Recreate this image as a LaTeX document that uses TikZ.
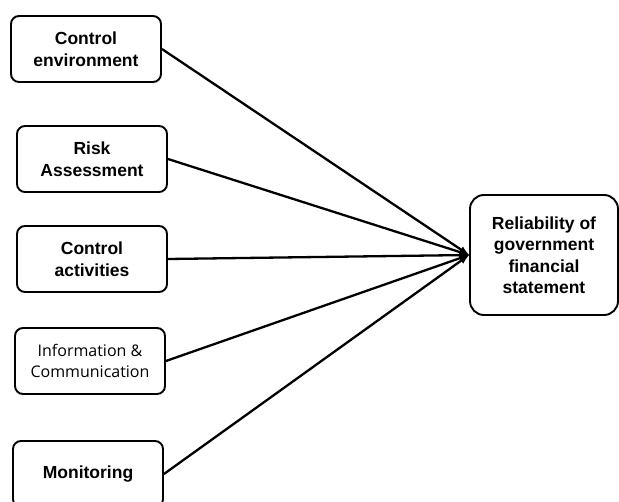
\documentclass[tikz,border=0pt]{standalone}
\usepackage{fontspec}
\setmainfont{Liberation Sans}
\newfontfamily\infofont{Open Sans}
\usepackage{tikz}
\usetikzlibrary{positioning,shapes,arrows}

\begin{document}
\begin{tikzpicture}[x=1pt,y=-1pt]
\tikzstyle{every node}+=[inner sep=0pt]
\tikzstyle{factor}=[draw, line width=1.9pt, rounded corners=8pt, minimum width=150pt, minimum height=66pt, align=center, font=\bfseries\fontsize{17.5}{21.5}\selectfont]
\useasboundingbox (0,0) rectangle (619,502);
% components
\node [factor] (env) at (86,49) {Control\\environment};
\node [factor] (risk) at (92,159) {Risk\\Assessment};
\node [factor] (act) at (92,259) {Control\\activities};
\node [factor, font=\infofont\fontsize{16}{21.5}\selectfont] (info) at (90,361) {Information \&\\Communication};
\node [factor] (mon) at (88,474) {Monitoring};
% outcome
\node [factor, minimum width=148pt, minimum height=120pt, rounded corners=14pt] (rel) at (544,255) {Reliability of\\government\\financial\\statement};
% links
\foreach \n in {env,risk,act,info,mon}
  \draw [line width=2.3pt, -latex] (\n.east) -- (rel.west);
\end{tikzpicture}
\end{document}
